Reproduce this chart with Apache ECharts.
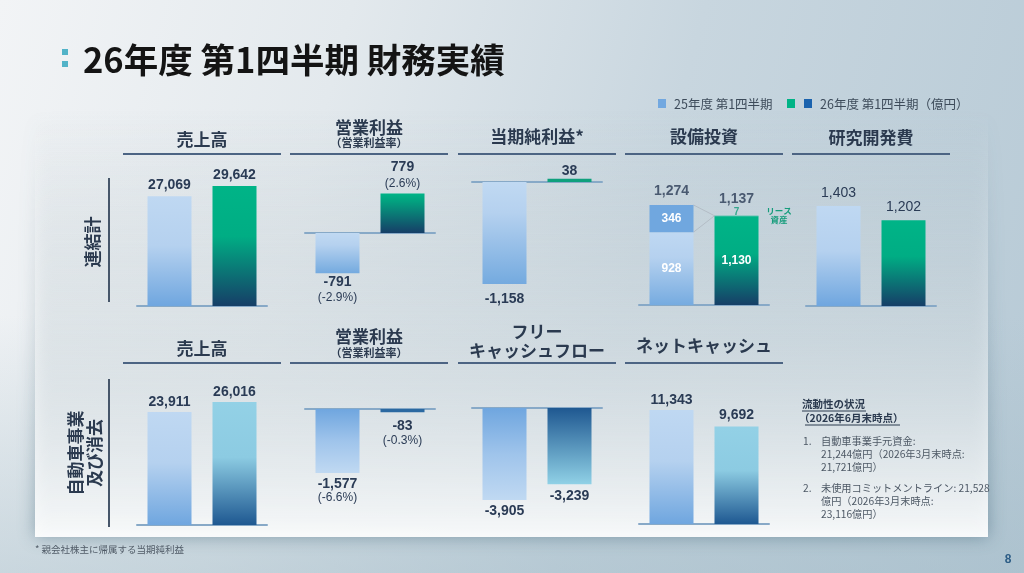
<!DOCTYPE html>
<html>
<head>
<meta charset="utf-8">
<script src="https://cdn.jsdelivr.net/npm/echarts@6/dist/echarts.min.js"></script>
<style>
  html, body { margin: 0; padding: 0; }
  body {
    width: 1024px; height: 573px; overflow: hidden;
    background:
      linear-gradient(to bottom, rgba(160,185,198,0) 55%, rgba(160,185,198,0.45) 100%),
      linear-gradient(105deg, #f2f4f6 0%, #e3e9ed 30%, #c8d6df 60%, #b7cad6 100%);
  }
  #main { width: 1024px; height: 573px; }
</style>
</head>
<body>
<div id="main"></div>
<script>
// ---- data (億円) ----
const periods = ['25年度 第1四半期', '26年度 第1四半期'];
// 連結計
const salesCons = [27069, 29642];
const opCons = [-791, 779];
const opRateCons = [-2.9, 2.6];
const netIncome = [-1158, 38];
const capexOwned = [928, 1130];
const capexLease = [346, 7];
const capexTotal = [1274, 1137];
const rnd = [1403, 1202];
// 自動車事業及び消去
const salesAuto = [23911, 26016];
const opAuto = [-1577, -83];
const opRateAuto = [-6.6, -0.3];
const fcfAuto = [-3905, -3239];
const netCashAuto = [11343, 9692];

const jp = '"Noto Sans CJK JP", sans-serif';
const num = '"Liberation Sans", Arial, "Noto Sans CJK JP", sans-serif';
const ink = '#2a3b55';
const titleInk = '#2b3a4f';

const fmt = v => v.toLocaleString('en-US');
const pct = v => '(' + v.toFixed(1) + '%)';
const grad = stops => new echarts.graphic.LinearGradient(0, 0, 0, 1,
  stops.map(s => ({ offset: s[0], color: s[1] })));

const lightUp = grad([[0, '#bfd8f2'], [0.45, '#b5d1ef'], [1, '#6fa6df']]);
const lightDown = grad([[0, '#c0d9f2'], [0.3, '#b5d1ef'], [1, '#74aadf']]);
const lightDownRev = grad([[0, '#6fa6df'], [0.5, '#9fc4eb'], [1, '#c0d9f2']]);
const greenUp = grad([[0, '#00b487'], [0.42, '#00ad84'], [1, '#163e67']]);
const greenSmall = grad([[0, '#00b487'], [0.2, '#03a17f'], [1, '#163e67']]);
const blueUp = grad([[0, '#93d1e6'], [0.45, '#8ccbe2'], [1, '#1e5891']]);
const blueDownRev = grad([[0, '#1f5891'], [1, '#90d1e6']]);
const capexBase = grad([[0, '#bfd8f2'], [0.35, '#b5d1ef'], [1, '#76abe0']]);

// panel layout: centre x, zero line y, pixels per 億円
const panels = [
  { cx: 202, base: 306, scale: 0.00405, min: 0, max: 36000 },
  { cx: 370, base: 233, scale: 0.0508, min: -1000, max: 1000 },
  { cx: 537, base: 182, scale: 0.0881, min: -1400, max: 200 },
  { cx: 704, base: 305, scale: 0.0785, min: 0, max: 1500 },
  { cx: 871, base: 306, scale: 0.0713, min: 0, max: 1600 },
  { cx: 202, base: 525, scale: 0.00473, min: 0, max: 30000 },
  { cx: 370, base: 409, scale: 0.0406, min: -2000, max: 200 },
  { cx: 537, base: 408, scale: 0.02356, min: -4500, max: 200 },
  { cx: 704, base: 524, scale: 0.01005, min: 0, max: 13000 }
];

const grids = panels.map(p => ({
  left: p.cx - 65, width: 130,
  top: p.base - p.max * p.scale, height: (p.max - p.min) * p.scale
}));
const xAxes = panels.map((p, i) => ({
  gridIndex: i, type: 'category', data: periods,
  axisLine: { onZero: true, lineStyle: { color: '#87a9c7', width: 2 } },
  axisTick: { show: false }, axisLabel: { show: false }, splitLine: { show: false }
}));
const yAxes = panels.map((p, i) => ({
  gridIndex: i, type: 'value', min: p.min, max: p.max,
  axisLine: { show: false }, axisTick: { show: false },
  axisLabel: { show: false }, splitLine: { show: false }
}));

const baseLabel = { show: true, color: ink, fontSize: 14, fontWeight: 'bold', fontFamily: num };
const richTop = {
  v: { fontSize: 14, fontWeight: 'bold', color: ink, fontFamily: num, lineHeight: 16 },
  p: { fontSize: 12, color: ink, fontFamily: num, lineHeight: 16 }
};
const richBot = {
  v: { fontSize: 14, fontWeight: 'bold', color: ink, fontFamily: num, lineHeight: 14 },
  p: { fontSize: 12, color: ink, fontFamily: num, lineHeight: 14 }
};

function item(value, color, pos, dist, extra) {
  return {
    value: value,
    itemStyle: { color: color },
    label: Object.assign({}, baseLabel, { position: pos, distance: dist, formatter: fmt(value) }, extra || {})
  };
}
function bars(i, data) {
  return { type: 'bar', xAxisIndex: i, yAxisIndex: i, barWidth: 44, data: data, z: 3 };
}
function rateItem(value, rate, color, pos, dist, rich) {
  return {
    value: value, itemStyle: { color: color },
    label: { show: true, position: pos, distance: dist, align: 'center',
      formatter: '{v|' + fmt(value) + '}\n{p|' + pct(rate) + '}', rich: rich }
  };
}

const series = [
  bars(0, [item(salesCons[0], lightUp, 'top', 4), item(salesCons[1], greenUp, 'top', 4)]),
  bars(1, [rateItem(opCons[0], opRateCons[0], lightDown, 'bottom', 1, richTop),
           rateItem(opCons[1], opRateCons[1], greenSmall, 'top', 2, richTop)]),
  bars(2, [item(netIncome[0], lightDown, 'bottom', 8), item(netIncome[1], '#0fa07d', 'top', 1)]),
  Object.assign(bars(3, [
    item(capexOwned[0], capexBase, 'inside', 0, { color: '#fff', fontSize: 12 }),
    item(capexOwned[1], greenUp, 'inside', 0, { color: '#fff', fontSize: 12 })
  ]), { stack: 'capex' }),
  Object.assign(bars(3, [
    item(capexLease[0], '#70a7df', 'inside', 0, { color: '#fff', fontSize: 12 }),
    { value: capexLease[1], itemStyle: { color: '#00b487' }, label: { show: false } }
  ]), { stack: 'capex' }),
  {
    type: 'scatter', xAxisIndex: 3, yAxisIndex: 3, symbolSize: 1, z: 4,
    itemStyle: { color: 'rgba(0,0,0,0)' },
    data: [
      { value: capexTotal[0], label: Object.assign({}, baseLabel, { position: 'top', distance: 6, formatter: fmt(capexTotal[0]) }) },
      { value: capexTotal[1], label: { show: true, position: 'top', distance: -3, align: 'center',
          formatter: '{t|' + fmt(capexTotal[1]) + '}\n{s|' + fmt(capexLease[1]) + '}',
          rich: {
            t: { fontSize: 14, fontWeight: 'bold', color: ink, fontFamily: num, lineHeight: 15 },
            s: { fontSize: 10, fontWeight: 'bold', color: '#129b79', fontFamily: num, lineHeight: 12 }
          } } }
    ]
  },
  {
    type: 'custom', xAxisIndex: 3, yAxisIndex: 3, z: 2,
    data: [[0, capexTotal[0], capexOwned[0], capexTotal[1]]],
    encode: { x: 0, y: 1 },
    renderItem: function (params, api) {
      const half = 22;
      const a = api.coord([0, api.value(1)]);
      const b = api.coord([0, api.value(2)]);
      const c = api.coord([1, api.value(3)]);
      const style = { stroke: '#b3bcc5', lineWidth: 1 };
      return { type: 'group', children: [
        { type: 'line', shape: { x1: a[0] + half, y1: a[1], x2: c[0] - half, y2: c[1] }, style: style },
        { type: 'line', shape: { x1: b[0] + half, y1: b[1], x2: c[0] - half, y2: c[1] }, style: style }
      ] };
    }
  },
  bars(4, [item(rnd[0], lightUp, 'top', 6, { fontWeight: 'normal' }), item(rnd[1], greenUp, 'top', 6, { fontWeight: 'normal' })]),
  bars(5, [item(salesAuto[0], lightUp, 'top', 3), item(salesAuto[1], blueUp, 'top', 3)]),
  bars(6, [rateItem(opAuto[0], opRateAuto[0], lightDownRev, 'bottom', 4, richBot),
           rateItem(opAuto[1], opRateAuto[1], '#2b69a1', 'bottom', 7, richBot)]),
  bars(7, [item(fcfAuto[0], lightDownRev, 'bottom', 4), item(fcfAuto[1], blueDownRev, 'bottom', 5)]),
  bars(8, [item(netCashAuto[0], lightUp, 'top', 3), item(netCashAuto[1], blueUp, 'top', 4)])
];

// ---- slide decoration ----
function txt(x, y, text, font, fill, align, extra) {
  return Object.assign({
    type: 'text', x: x, y: y, z: 10,
    style: { text: text, font: font, fill: fill, textAlign: align || 'center', textVerticalAlign: 'middle' }
  }, extra || {});
}
function line(x1, y1, x2, y2, stroke, w) {
  return { type: 'line', z: 9, shape: { x1: x1, y1: y1, x2: x2, y2: y2 }, style: { stroke: stroke, lineWidth: w } };
}
function sq(x, y, w, h, fill) {
  return { type: 'rect', z: 9, shape: { x: x, y: y, width: w, height: h }, style: { fill: fill } };
}

const colX = [123, 290, 458, 625, 792];
const hdr = 'bold 17px ' + jp;
const sub = 'bold 11px ' + jp;
const body = '10.2px ' + jp;
const bodyInk = '#4d5865';
const legendFont = '12.5px ' + jp;

const graphic = [
  {
    type: 'rect', z: 0,
    shape: { x: 35, y: 108, width: 953, height: 429 },
    style: {
      fill: new echarts.graphic.LinearGradient(0, 0, 0, 1, [
        { offset: 0, color: 'rgba(255,255,255,0)' },
        { offset: 0.15, color: 'rgba(255,255,255,0.12)' },
        { offset: 0.55, color: 'rgba(255,255,255,0.45)' },
        { offset: 1, color: 'rgba(255,255,255,0.93)' }
      ]),
      shadowBlur: 16, shadowColor: 'rgba(40,80,100,0.45)'
    }
  },
  sq(62, 49, 6, 6, '#52b3c8'),
  sq(62, 61, 6, 6, '#52b3c8'),
  txt(83, 60, '26年度 第1四半期 財務実績', 'bold 34.5px "Liberation Sans Narrow", ' + jp, '#141414', 'left'),

  sq(658, 99, 8, 9, '#72a8e0'),
  txt(674, 104, '25年度 第1四半期', legendFont, '#3d4b5a', 'left'),
  sq(787, 99, 8, 9, '#00b386'),
  sq(804, 99, 8, 9, '#1b63ae'),
  txt(820, 104, '26年度 第1四半期（億円）', legendFont, '#3d4b5a', 'left'),

  // top row headers
  txt(202, 140, '売上高', hdr, titleInk),
  txt(369, 128, '営業利益', hdr, titleInk),
  txt(369, 143, '（営業利益率）', sub, titleInk),
  txt(537, 137, '当期純利益*', hdr, titleInk),
  txt(704, 137, '設備投資', hdr, titleInk),
  txt(871, 138, '研究開発費', hdr, titleInk),
  // bottom row headers
  txt(202, 349, '売上高', hdr, titleInk),
  txt(369, 337, '営業利益', hdr, titleInk),
  txt(369, 353, '（営業利益率）', sub, titleInk),
  txt(537, 332, 'フリー', hdr, titleInk),
  txt(537, 351, 'キャッシュフロー', hdr, titleInk),
  txt(704, 346, 'ネットキャッシュ', hdr, titleInk),

  {
    type: 'text', x: 779, y: 215, z: 10,
    style: { text: 'リース\n資産', font: 'bold 8.5px ' + jp, fill: '#159c7b',
      textAlign: 'center', textVerticalAlign: 'middle', lineHeight: 9 }
  },

  // row labels
  line(109, 178, 109, 302, '#46566a', 2),
  line(109, 379, 109, 527, '#46566a', 2),
  txt(93, 242, '連結計', hdr, titleInk, 'center', { rotation: Math.PI / 2 }),
  {
    type: 'text', x: 85, y: 453, z: 10, rotation: Math.PI / 2,
    style: { text: '自動車事業\n及び消去', font: hdr, fill: titleInk, textAlign: 'center',
      textVerticalAlign: 'middle', lineHeight: 19 }
  },

  // liquidity note
  txt(802, 404, '流動性の状況', 'bold 10.5px ' + jp, '#2b3a4f', 'left'),
  line(802, 411, 866, 411, '#2b3a4f', 1),
  txt(799, 418, '（2026年6月末時点）', 'bold 10.5px ' + jp, '#2b3a4f', 'left'),
  line(805, 425, 900, 425, '#2b3a4f', 1),
  txt(803, 441, '1.', body, bodyInk, 'left'),
  txt(821, 441, '自動車事業手元資金:', body, bodyInk, 'left'),
  txt(821, 454, '21,244億円（2026年3月末時点:', body, bodyInk, 'left'),
  txt(821, 467, '21,721億円）', body, bodyInk, 'left'),
  txt(803, 488, '2.', body, bodyInk, 'left'),
  txt(821, 488, '未使用コミットメントライン: 21,528', body, bodyInk, 'left'),
  txt(821, 501, '億円（2026年3月末時点:', body, bodyInk, 'left'),
  txt(821, 514, '23,116億円）', body, bodyInk, 'left'),

  txt(35, 549, '* 親会社株主に帰属する当期純利益', '9.5px ' + jp, '#4f5a66', 'left'),
  txt(1008, 560, '8', 'bold 12px ' + num, '#2d5d86')
];
colX.forEach(x => graphic.push(line(x, 154, x + 158, 154, '#4c6483', 2)));
colX.slice(0, 4).forEach(x => graphic.push(line(x, 363, x + 158, 363, '#4c6483', 2)));

const chart = echarts.init(document.getElementById('main'));
chart.setOption({
  animation: false,
  grid: grids,
  xAxis: xAxes,
  yAxis: yAxes,
  series: series,
  graphic: graphic
});
</script>
</body>
</html>
